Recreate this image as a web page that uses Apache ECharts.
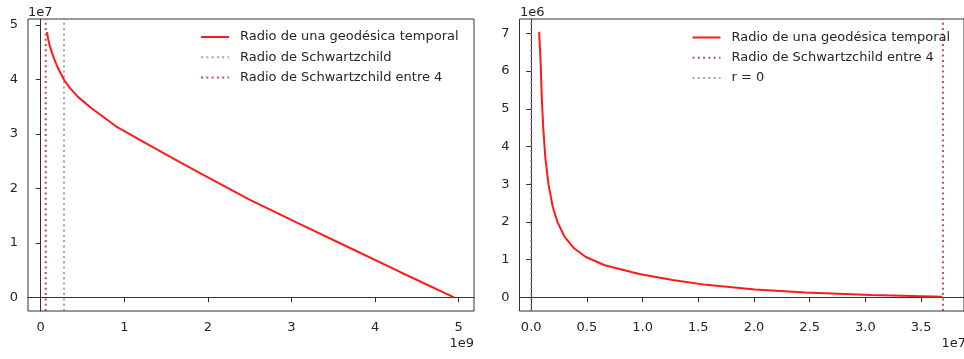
<!DOCTYPE html>
<html><head><meta charset="utf-8">
<script src="https://cdn.jsdelivr.net/npm/echarts@6/dist/echarts.min.js"></script>
<style>html,body{margin:0;padding:0;background:#fff}#c{width:964px;height:359px}</style>
</head><body><div id="c"></div><script>
// ---- Left panel data ----
const leftR = [0.075e9,0.09e9,0.105e9,0.13e9,0.163e9,0.2e9,0.24e9,0.28e9,0.35e9,0.446e9,0.6e9,0.9e9,1.244e9,1.642e9,1.906e9,2.24e9,2.503e9,3.102e9,3.7e9,4.298e9,4.944e9];
const leftT = [4.87e7,4.74e7,4.64e7,4.51e7,4.37e7,4.23e7,4.11e7,3.99e7,3.84e7,3.68e7,3.48e7,3.14e7,2.84e7,2.50e7,2.28e7,2.005e7,1.79e7,1.345e7,0.905e7,0.465e7,0];
const leftRs = 0.279e9;      // Radio de Schwartzchild
const leftRs4 = 0.060e9;     // Radio de Schwartzchild entre 4
const leftXTicks = [0,1e9,2e9,3e9,4e9,5e9];
const leftYTicks = [0,1e7,2e7,3e7,4e7,5e7];
const leftXRange = [-0.152e9, 5.183e9];
const leftYRange = [-0.2516e7, 5.110e7];

// ---- Right panel data ----
const rightR = [0.0714e7,0.085e7,0.095e7,0.108e7,0.127e7,0.155e7,0.193e7,0.235e7,0.30e7,0.385e7,0.49e7,0.66e7,0.97e7,1.27e7,1.57e7,2.01e7,2.46e7,3.05e7,3.69e7];
const rightT = [7.04e6,6.2e6,5.3e6,4.5e6,3.7e6,3.0e6,2.4e6,2.0e6,1.6e6,1.3e6,1.07e6,0.85e6,0.62e6,0.46e6,0.33e6,0.21e6,0.13e6,0.06e6,0.016e6];
const rightRs4 = 3.696e7;    // Radio de Schwartzchild entre 4
const rightR0 = 0;           // r = 0
const rightXTicks = [0,0.5e7,1e7,1.5e7,2e7,2.5e7,3e7,3.5e7];
const rightYTicks = [0,1e6,2e6,3e6,4e6,5e6,6e6,7e6];
const rightXRange = [-0.105e7, 3.885e7];
const rightYRange = [-0.363e6, 7.380e6];

const names = {
  geo: 'Radio de una geodésica temporal',
  rs: 'Radio de Schwartzchild',
  rs4: 'Radio de Schwartzchild entre 4',
  r0: 'r = 0'
};

const FONT = 'DejaVu Sans';
const TXT = '#262626';
const AX = '#333';
const RED = '#ff1a1a';
const GRAY = 'rgba(128,128,128,0.7)';
const BROWN = 'rgba(165,42,42,0.8)';
const DOT = [2, 3.3];

function zip(a, b) { return a.map((v, i) => [v, b[i]]); }
function vline(x, yr) { return [[x, yr[0]], [x, yr[1]]]; }

function xAxis(idx, range, ticks, fmt) {
  return {
    type: 'value', gridIndex: idx, min: range[0], max: range[1],
    axisLine: { show: true, lineStyle: { color: AX, width: 1 } },
    axisTick: { show: true, customValues: ticks, length: 5, lineStyle: { color: AX, width: 1 } },
    axisLabel: { customValues: ticks, formatter: fmt, margin: 10, fontSize: 13, fontFamily: FONT, color: TXT },
    splitLine: { show: false }
  };
}
function yAxis(idx, range, ticks, fmt) {
  return {
    type: 'value', gridIndex: idx, min: range[0], max: range[1],
    axisLine: { show: true, lineStyle: { color: AX, width: 1 } },
    axisTick: { show: true, customValues: ticks, length: 5, lineStyle: { color: AX, width: 1 } },
    axisLabel: { customValues: ticks, formatter: fmt, margin: 10, fontSize: 13, fontFamily: FONT, color: TXT },
    splitLine: { show: false }
  };
}

const legendBase = {
  orient: 'vertical', padding: 0,
  itemWidth: 28, itemHeight: 14, itemGap: 7.2, selectedMode: false,
  itemStyle: { opacity: 0 },
  textStyle: { fontSize: 13, fontFamily: FONT, color: TXT, padding: [0, 0, 0, 6] }
};

const chart = echarts.init(document.getElementById('c'), null, { renderer: 'canvas' });
chart.setOption({
  animation: false,
  backgroundColor: '#fff',
  grid: [
    { left: 28, top: 19, width: 446, height: 292, show: true, borderColor: AX, borderWidth: 1, containLabel: false },
    { left: 519.5, top: 19, width: 446.5, height: 292, show: true, borderColor: AX, borderWidth: 1, containLabel: false }
  ],
  xAxis: [
    xAxis(0, leftXRange, leftXTicks, v => String(Math.round(v / 1e9))),
    xAxis(1, rightXRange, rightXTicks, v => (v / 1e7).toFixed(1))
  ],
  yAxis: [
    yAxis(0, leftYRange, leftYTicks, v => String(Math.round(v / 1e7))),
    yAxis(1, rightYRange, rightYTicks, v => String(Math.round(v / 1e6)))
  ],
  legend: [
    Object.assign({}, legendBase, { data: [names.geo, names.rs, names.rs4], left: 200, top: 30.5 }),
    Object.assign({}, legendBase, { data: [names.geo, names.rs4, names.r0], left: 691.5, top: 31 })
  ],
  graphic: [
    { type: 'text', x: 28, y: 13, style: { text: '1e7', font: '13px "DejaVu Sans"', fill: TXT, align: 'left', verticalAlign: 'middle' } },
    { type: 'text', x: 474, y: 344, style: { text: '1e9', font: '13px "DejaVu Sans"', fill: TXT, align: 'right', verticalAlign: 'middle' } },
    { type: 'text', x: 520, y: 13, style: { text: '1e6', font: '13px "DejaVu Sans"', fill: TXT, align: 'left', verticalAlign: 'middle' } },
    { type: 'text', x: 966, y: 344, style: { text: '1e7', font: '13px "DejaVu Sans"', fill: TXT, align: 'right', verticalAlign: 'middle' } }
  ],
  series: [
    { name: names.geo, type: 'line', xAxisIndex: 0, yAxisIndex: 0, data: zip(leftR, leftT), symbol: 'none', smooth: false, lineStyle: { color: RED, width: 2 }, itemStyle: { color: RED }, z: 3 },
    { name: names.rs, type: 'line', xAxisIndex: 0, yAxisIndex: 0, data: vline(leftRs, leftYRange), symbol: 'none', lineStyle: { color: GRAY, width: 2, type: DOT }, itemStyle: { color: GRAY }, z: 2 },
    { name: names.rs4, type: 'line', xAxisIndex: 0, yAxisIndex: 0, data: vline(leftRs4, leftYRange), symbol: 'none', lineStyle: { color: BROWN, width: 2, type: DOT }, itemStyle: { color: BROWN }, z: 2 },
    { name: names.geo, type: 'line', xAxisIndex: 1, yAxisIndex: 1, data: zip(rightR, rightT), symbol: 'none', smooth: false, lineStyle: { color: RED, width: 2 }, itemStyle: { color: RED }, z: 3 },
    { name: names.rs4, type: 'line', xAxisIndex: 1, yAxisIndex: 1, data: vline(rightRs4, rightYRange), symbol: 'none', lineStyle: { color: BROWN, width: 2, type: DOT }, itemStyle: { color: BROWN }, z: 2 },
    { name: names.r0, type: 'line', xAxisIndex: 1, yAxisIndex: 1, data: vline(rightR0, rightYRange), symbol: 'none', lineStyle: { color: GRAY, width: 2, type: DOT }, itemStyle: { color: GRAY }, z: 2 }
  ]
});
</script></body></html>
